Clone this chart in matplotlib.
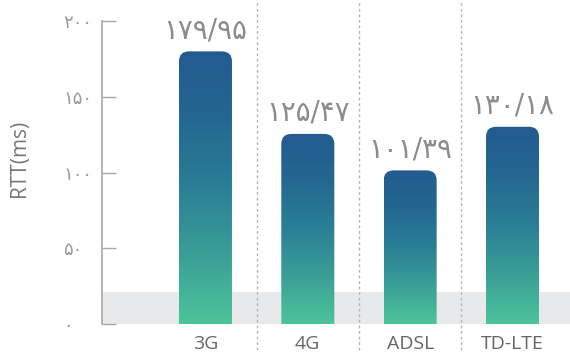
import numpy as np
import matplotlib.pyplot as plt
from matplotlib.colors import LinearSegmentedColormap
from matplotlib.patches import FancyBboxPatch

# Data
categories = ["3G", "4G", "ADSL", "TD-LTE"]
rtt_values = [179.95, 125.47, 101.39, 130.18]
y_ticks = [0, 50, 100, 150, 200]
band_top = 21

# Persian digits for the labels
fa_digits = str.maketrans("0123456789.", "۰۱۲۳۴۵۶۷۸۹/")

plt.rcParams['font.family'] = ['Open Sans', 'DejaVu Sans']

fig = plt.figure(figsize=(5.7, 3.54), dpi=100)
ax = fig.add_axes([102 / 570, 30 / 354, 1 - 102 / 570, 303 / 354])

ax.set_xlim(-1.011, 3.562)
ax.set_ylim(0, 200)

# Light grey band at the bottom
ax.axhspan(0, band_top, color="#e8e9eb", zorder=0, lw=0)

# Gradient used to fill each bar (bottom green -> top blue)
cmap = LinearSegmentedColormap.from_list(
    "bars", ["#4ec49a", "#3a9f97", "#2a7f96", "#246891", "#235b90"])

x = np.arange(len(categories))
bars = ax.bar(x, rtt_values, width=0.518, color="none", zorder=2)

# radius of the rounded top corners, in pixels -> data units
px_x = (ax.transData.inverted().transform((10, 0)) -
        ax.transData.inverted().transform((0, 0)))[0]
px_y = (ax.transData.inverted().transform((0, 10)) -
        ax.transData.inverted().transform((0, 0)))[1]

gradient = np.linspace(0, 1, 256).reshape(-1, 1)
for bar, value in zip(bars, rtt_values):
    x0 = bar.get_x()
    w = bar.get_width()
    h = bar.get_height()
    shape = FancyBboxPatch((x0, -px_y), w, h + px_y,
                           boxstyle="round,pad=0,rounding_size=%f" % px_x,
                           mutation_aspect=px_y / px_x,
                           facecolor="none", edgecolor="none")
    ax.add_patch(shape)
    img = ax.imshow(gradient, extent=[x0, x0 + w, 0, h], origin="lower",
                    cmap=cmap, aspect="auto", zorder=2)
    img.set_clip_path(shape)

    label = ("%.2f" % value).translate(fa_digits)
    ax.annotate(label, (bar.get_x() + w / 2, h), xytext=(0, 5),
                textcoords="offset points", ha="center", va="bottom",
                fontsize=20, color="#8c8c8c", family="DejaVu Sans")

# Dotted separators between the bars
for sep in x[:-1] + 0.5:
    ax.axvline(sep, ymin=-0.086, ymax=1.07, clip_on=False,
               color="#b5b5b5", lw=1, ls=(0, (2, 2)), zorder=1)

ax.set_xticks(x)
ax.set_xticklabels(categories, fontsize=14, color="#666666")
ax.tick_params(axis="x", length=0, pad=8)

ax.set_yticks(y_ticks)
ax.set_yticklabels([str(t).translate(fa_digits) for t in y_ticks],
                   fontsize=13, color="#9a9a9a", family="DejaVu Sans")
ax.tick_params(axis="y", direction="in", length=10, width=1,
               color="#a8a8a8", pad=28)
plt.setp(ax.get_yticklabels(), ha="left")

for side in ["top", "right", "bottom"]:
    ax.spines[side].set_visible(False)
ax.spines["left"].set_color("#a8a8a8")
ax.spines["left"].set_linewidth(1.2)

fig.text(20 / 570, 1 - 158 / 354, "RTT(ms)", rotation=90, ha="center",
         va="center", fontsize=15, color="#777777")

fig.savefig("out.png", dpi=100)
